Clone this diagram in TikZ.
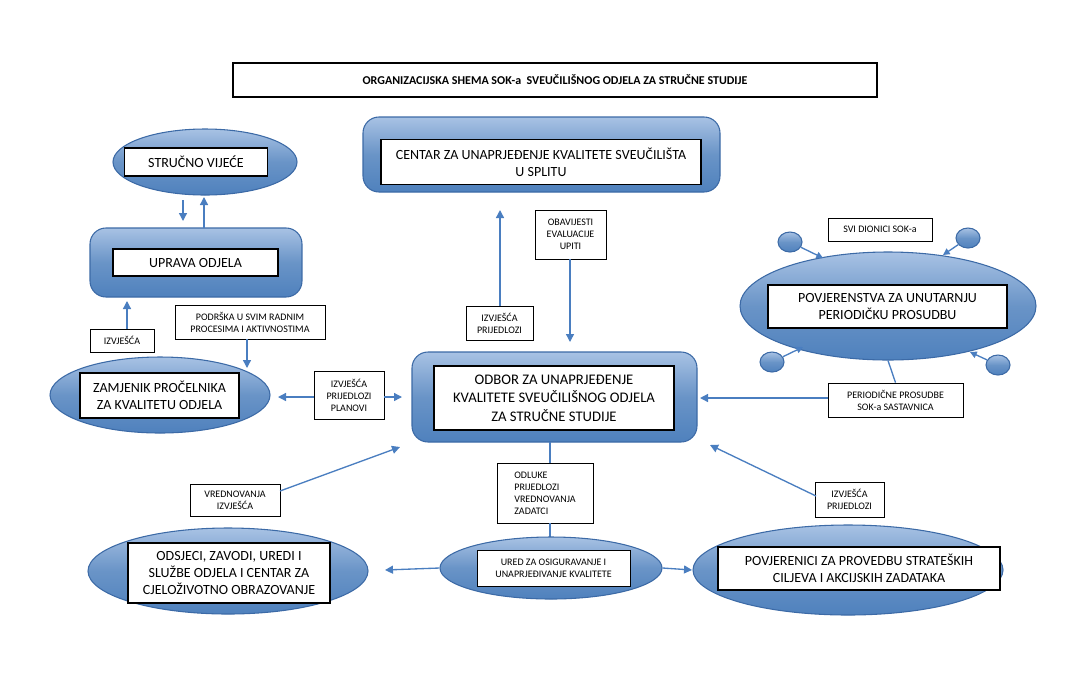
\documentclass[tikz,border=0pt]{standalone}
\usepackage{fontspec}
\setmainfont{Carlito}
\usetikzlibrary{shapes.geometric,arrows.meta}
\definecolor{bl}{HTML}{4F81BD}
\definecolor{bll}{HTML}{A8C2E4}
\definecolor{bld}{HTML}{3C6AA6}
\definecolor{ar}{HTML}{4A7EC0}
\tikzset{
 blob/.style={draw=bld,line width=0.8pt,top color=bll,bottom color=bl,middle color=bl!85!white},
 rbox/.style={blob,rounded corners=12pt},
 ell/.style={blob,ellipse},
 wbox/.style={draw=black,line width=0.8pt,fill=white,align=center,inner sep=1pt},
 lbl/.style={draw=black,line width=0.6pt,fill=white,align=center,font=\fontsize{7.5}{9}\selectfont,inner sep=2pt},
 arr/.style={draw=ar,line width=1pt,-{Triangle[length=6pt,width=6pt]}},
 ln/.style={draw=ar,line width=1pt},
 big/.style={font=\fontsize{10.5}{13}\selectfont}
}
\begin{document}
\begin{tikzpicture}[x=0.75pt,y=-0.75pt]
\useasboundingbox (0,0) rectangle (1080,690);
% title
\node[draw=black,line width=0.8pt,minimum width=644*0.75pt,minimum height=34*0.75pt,font=\bfseries\fontsize{9}{11}\selectfont] (title) at (555,80) {ORGANIZACIJSKA SHEMA SOK-a \ SVEUČILIŠNOG ODJELA ZA STRUČNE STUDIJE};
% Centar
\node[rbox,minimum width=357*0.75pt,minimum height=75*0.75pt] (centar) at (541.5,154.5) {};
\node[wbox,big,minimum width=320*0.75pt,minimum height=45*0.75pt] (centarT) at (541,162) {CENTAR ZA UNAPRJEĐENJE KVALITETE SVEUČILIŠTA\\U SPLITU};
% Strucno vijece
\node[ell,minimum width=184*0.75pt,minimum height=66*0.75pt] (sv) at (205,162) {};
\node[wbox,big,minimum width=143*0.75pt,minimum height=28*0.75pt] (svT) at (196,162) {STRUČNO VIJEĆE};
% Uprava
\node[rbox,minimum width=212*0.75pt,minimum height=69*0.75pt] (up) at (196,262.5) {};
\node[wbox,big,minimum width=165*0.75pt,minimum height=27*0.75pt] (upT) at (195.5,262.5) {UPRAVA ODJELA};
\coordinate (a1) at (183,200); \coordinate (a2) at (183,221);
\coordinate (b1) at (204,228); \coordinate (b2) at (204,197);
\draw[arr] (a1) -- (a2);
\draw[arr] (b1) -- (b2);
% Izvjesca left
\node[lbl,minimum width=64*0.75pt,minimum height=23*0.75pt] (izv1) at (122,340.5) {IZVJEŠĆA};
\coordinate (c1) at (127,301);
\draw[arr] (izv1.north -| c1) -- (c1);
% Podrska
\node[lbl,minimum width=150*0.75pt,minimum height=34*0.75pt] (pod) at (250,322) {PODRŠKA U SVIM RADNIM\\PROCESIMA I AKTIVNOSTIMA};
\coordinate (c2) at (247,368);
\draw[arr] (pod.south -| c2) -- (c2);
% Zamjenik
\node[ell,minimum width=220*0.75pt,minimum height=76*0.75pt] (zam) at (160,395) {};
\node[wbox,big,minimum width=159*0.75pt,minimum height=45*0.75pt] (zamT) at (159.5,395.5) {ZAMJENIK PROČELNIKA\\ZA KVALITETU ODJELA};
% izvjesca prijedlozi planovi
\node[lbl,minimum width=70*0.75pt,minimum height=48*0.75pt] (ipp) at (349,395) {IZVJEŠĆA\\PRIJEDLOZI\\PLANOVI};
\coordinate (c3) at (278,397); \coordinate (c4) at (402,397);
\draw[arr] (ipp.west |- c3) -- (c3);
\draw[arr] (ipp.east |- c4) -- (c4);
% Odbor
\node[rbox,minimum width=285*0.75pt,minimum height=90*0.75pt] (odb) at (554.5,397) {};
\node[wbox,font=\fontsize{11}{14}\selectfont,minimum width=240*0.75pt,minimum height=64*0.75pt] (odbT) at (554,398) {ODBOR ZA UNAPRJEĐENJE\\KVALITETE SVEUČILIŠNOG ODJELA\\ZA STRUČNE STUDIJE};
% izvjesca prijedlozi mid
\node[lbl,minimum width=67*0.75pt,minimum height=34*0.75pt] (ipm) at (499.5,323) {IZVJEŠĆA\\PRIJEDLOZI};
\coordinate (c5) at (500,210);
\draw[arr] (ipm.north -| c5) -- (c5);
\node[lbl,minimum width=71*0.75pt,minimum height=49*0.75pt] (oba) at (570.5,234.5) {OBAVIJESTI\\EVALUACIJE\\UPITI};
\coordinate (c6) at (570,342);
\draw[arr] (oba.south -| c6) -- (c6);
% Povjerenstva
\node[lbl,minimum width=104*0.75pt,minimum height=23*0.75pt] (svi) at (880,229.5) {SVI DIONICI SOK-a};
\node[ell,minimum width=296*0.75pt,minimum height=108*0.75pt] (pov) at (888,306) {};
\node[wbox,big,minimum width=239*0.75pt,minimum height=43*0.75pt] (povT) at (887.5,306.5) {POVJERENSTVA ZA UNUTARNJU\\PERIODIČKU PROSUDBU};
\foreach \n/\x/\y in {d1/790/242,d2/968/238,d3/772/362,d4/998/365}
  \node[ell,minimum width=24*0.75pt,minimum height=20*0.75pt,inner sep=0pt] (\n) at (\x,\y) {};
\coordinate (e1) at (823,258); \coordinate (e2) at (943,255);
\coordinate (e3) at (803,347); \coordinate (e4) at (970,352);
\draw[arr,-{Triangle[length=5pt,width=5pt]}] (d1) -- (e1);
\draw[arr,-{Triangle[length=5pt,width=5pt]}] (d2) -- (e2);
\draw[arr,-{Triangle[length=5pt,width=5pt]}] (d3) -- (e3);
\draw[arr,-{Triangle[length=5pt,width=5pt]}] (d4) -- (e4);
\node[lbl,minimum width=135*0.75pt,minimum height=34*0.75pt] (per) at (895.5,400) {PERIODIČNE PROSUDBE\\SOK-a SASTAVNICA};
\draw[ln] (pov.south) -- (per.north);
\coordinate (c7) at (700,398);
\draw[arr] (per.west |- c7) -- (c7);
% Odluke
\node[lbl,minimum width=96*0.75pt,minimum height=60*0.75pt,align=left] (odl) at (545,493) {ODLUKE\\PRIJEDLOZI\\VREDNOVANJA\\ZADATCI};
\coordinate (f1) at (550,442); \coordinate (f2) at (550,463);
\coordinate (f3) at (550,523); \coordinate (f4) at (550,538);
\draw[ln] (f1) -- (f2);
\draw[ln] (f3) -- (f4);
% Ured
\node[ell,minimum width=222*0.75pt,minimum height=62*0.75pt] (ured) at (551,568) {};
\node[lbl,minimum width=153*0.75pt,minimum height=36*0.75pt] (uredT) at (553.5,568) {URED ZA OSIGURAVANJE I\\UNAPRJEĐIVANJE KVALITETE};
% Odsjeci
\node[ell,minimum width=280*0.75pt,minimum height=86*0.75pt] (ods) at (228,571) {};
\node[wbox,big,minimum width=202*0.75pt,minimum height=60*0.75pt] (odsT) at (229,573) {ODSJECI, ZAVODI, UREDI I\\SLUŽBE ODJELA I CENTAR ZA\\CJELOŽIVOTNO OBRAZOVANJE};
% Povjerenici
\node[ell,minimum width=310*0.75pt,minimum height=90*0.75pt] (pnc) at (848,570) {};
\node[wbox,big,minimum width=282*0.75pt,minimum height=43*0.75pt] (pncT) at (859,568.5) {POVJERENICI ZA PROVEDBU STRATEŠKIH\\CILJEVA I AKCIJSKIH ZADATAKA};
\coordinate (g1) at (385,570); \coordinate (g2) at (692,570);
\draw[arr] (ured.west) -- (g1);
\draw[arr] (ured.east) -- (g2);
% vrednovanja
\node[lbl,minimum width=90*0.75pt,minimum height=32*0.75pt] (vre) at (235,500) {VREDNOVANJA\\IZVJEŠĆA};
\coordinate (h1) at (280,491); \coordinate (h2) at (400,447);
\draw[arr] (h1) -- (h2);
\node[lbl,minimum width=69*0.75pt,minimum height=35*0.75pt] (ipr) at (849.5,499.5) {IZVJEŠĆA\\PRIJEDLOZI};
\coordinate (h3) at (816,496); \coordinate (h4) at (710,445);
\draw[arr] (h3) -- (h4);
\end{tikzpicture}
\end{document}
